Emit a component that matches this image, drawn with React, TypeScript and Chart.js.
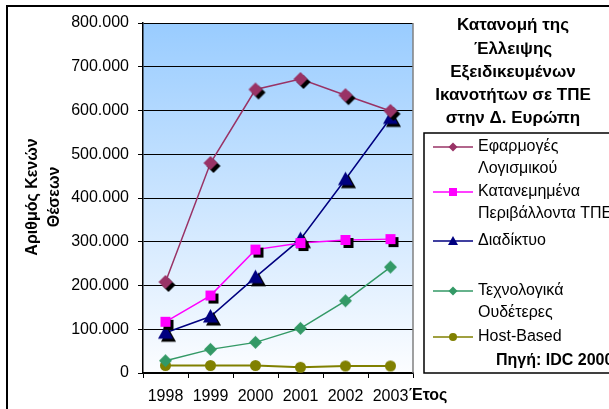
import React, { useEffect, useRef } from 'react';
import { Chart, registerables } from 'chart.js';

Chart.register(...registerables);

const years = ['1998', '1999', '2000', '2001', '2002', '2003'];
const softwareApps = [208000, 480000, 648000, 672000, 635000, 599000];
const distributedEnv = [117000, 177000, 282000, 297000, 304000, 306000];
const internet = [92000, 129000, 219000, 306000, 443000, 583000];
const neutralTech = [28000, 54000, 70000, 102000, 165000, 242000];
const hostBased = [17000, 17000, 17000, 13000, 16000, 16000];

const seriesNames = [
  ['Εφαρμογές', 'Λογισμικού'],
  ['Κατανεμημένα', 'Περιβάλλοντα ΤΠΕ'],
  ['Διαδίκτυο'],
  ['Τεχνολογικά', 'Ουδέτερες'],
  ['Host-Based'],
];
const titleLines = ['Κατανομή της', 'Έλλειψης', 'Εξειδικευμένων', 'Ικανοτήτων σε ΤΠΕ', 'στην Δ. Ευρώπη'];
const yTitleLines = ['Αριθμός Κενών', 'Θέσεων'];
const xTitle = 'Έτος';
const sourceText = 'Πηγή: IDC 2000';

const FONT = '"Liberation Sans", Arial, sans-serif';

type Shape = 'diamond' | 'square' | 'triangle' | 'circle';

function drawShape(g: CanvasRenderingContext2D, shape: Shape, x: number, y: number, r: number, fill: string) {
  g.fillStyle = fill;
  g.beginPath();
  if (shape === 'diamond') {
    g.moveTo(x, y - r);
    g.lineTo(x + r, y);
    g.lineTo(x, y + r);
    g.lineTo(x - r, y);
    g.closePath();
  } else if (shape === 'square') {
    g.rect(x - r, y - r, 2 * r, 2 * r);
  } else if (shape === 'triangle') {
    g.moveTo(x, y - r);
    g.lineTo(x + r, y + r * 0.8);
    g.lineTo(x - r, y + r * 0.8);
    g.closePath();
  } else {
    g.arc(x, y, r, 0, Math.PI * 2);
  }
  g.fill();
}

function makeMarker(shape: Shape, color: string, r: number, off: number) {
  const pad = off + 1;
  const size = Math.ceil(2 * (r + pad));
  const c = document.createElement('canvas');
  c.width = size;
  c.height = size;
  const g = c.getContext('2d')!;
  const cx = size / 2;
  if (off) drawShape(g, shape, cx + off, cx + off, r, '#000000');
  drawShape(g, shape, cx, cx, r, color);
  return c;
}

const colors = ['#993366', '#FF00FF', '#000080', '#339966', '#808000'];
const shapes: Shape[] = ['diamond', 'square', 'triangle', 'diamond', 'circle'];
const plotSizes = [7, 5, 7.5, 6.5, 5.5];
const shadowOffsets = [3, 3, 3, 0, 0];
const legendSizes = [4.5, 4, 5, 4.5, 4];
const legendRows = [147, 192, 241, 291, 337];

function fmt(v: number) {
  if (v === 0) return '0';
  const s = String(Math.round(v));
  return s.replace(/\B(?=(\d{3})+(?!\d))/g, '.');
}

export default function App() {
  const ref = useRef<HTMLCanvasElement>(null);

  useEffect(() => {
    const canvas = ref.current!;
    const seriesData = [softwareApps, distributedEnv, internet, neutralTech, hostBased];

    const extras = {
      id: 'extras',
      beforeDraw(chart: any) {
        const { ctx, chartArea } = chart;
        ctx.save();
        ctx.fillStyle = '#ffffff';
        ctx.fillRect(0, 0, chart.width, chart.height);
        const grad = ctx.createLinearGradient(0, chartArea.top, 0, chartArea.bottom);
        grad.addColorStop(0, '#99CCFF');
        grad.addColorStop(1, '#FCFDFF');
        ctx.fillStyle = grad;
        ctx.fillRect(chartArea.left, chartArea.top, chartArea.right - chartArea.left, chartArea.bottom - chartArea.top);
        ctx.restore();
      },
      beforeDatasetsDraw(chart: any) {
        const { ctx, chartArea } = chart;
        ctx.save();
        ctx.strokeStyle = '#808080';
        ctx.lineWidth = 1.5;
        ctx.beginPath();
        ctx.moveTo(chartArea.right, chartArea.top);
        ctx.lineTo(chartArea.right, chartArea.bottom);
        ctx.stroke();
        ctx.restore();
      },
      afterDraw(chart: any) {
        const { ctx } = chart;
        ctx.save();
        // outer border
        ctx.strokeStyle = '#000';
        ctx.lineWidth = 2;
        ctx.beginPath();
        ctx.moveTo(7, 420);
        ctx.lineTo(7, 6);
        ctx.lineTo(620, 6);
        ctx.stroke();

        // title
        ctx.fillStyle = '#000';
        ctx.font = 'bold 17px ' + FONT;
        ctx.textAlign = 'center';
        ctx.textBaseline = 'middle';
        const ty = [25, 49, 72, 95, 118];
        titleLines.forEach((t, i) => ctx.fillText(t, 513, ty[i]));

        // y title
        ctx.save();
        ctx.font = 'bold 16px ' + FONT;
        ctx.translate(33, 197);
        ctx.rotate(-Math.PI / 2);
        ctx.fillText(yTitleLines[0], 0, 0);
        ctx.fillText(yTitleLines[1], 0, 22);
        ctx.restore();

        // x title
        ctx.font = 'bold 16px ' + FONT;
        ctx.textAlign = 'left';
        ctx.fillText(xTitle, 409, 396);

        // legend box
        ctx.lineWidth = 1.5;
        ctx.strokeRect(424, 133, 200, 240);
        ctx.font = '16px ' + FONT;
        ctx.textAlign = 'left';
        ctx.textBaseline = 'middle';
        seriesNames.forEach((names, i) => {
          const y = legendRows[i];
          ctx.strokeStyle = colors[i];
          ctx.lineWidth = 1.5;
          ctx.beginPath();
          ctx.moveTo(433, y);
          ctx.lineTo(473, y);
          ctx.stroke();
          drawShape(ctx, shapes[i], 453, y, legendSizes[i], colors[i]);
          ctx.fillStyle = '#000';
          names.forEach((n, j) => ctx.fillText(n, 478, y + j * 22));
        });
        ctx.font = 'bold 16px ' + FONT;
        ctx.fillText(sourceText, 496, 361);
        ctx.restore();
      },
    };

    const chart = new Chart(canvas, {
      type: 'line',
      data: {
        labels: years,
        datasets: seriesData.map((d, i) => ({
          label: seriesNames[i].join(' '),
          data: d,
          borderColor: colors[i],
          backgroundColor: colors[i],
          borderWidth: i === 4 ? 2 : 1.5,
          pointStyle: makeMarker(shapes[i], colors[i], plotSizes[i], shadowOffsets[i]) as any,
          pointRadius: plotSizes[i],
          fill: false,
          tension: 0,
        })),
      },
      plugins: [extras],
      options: {
        responsive: false,
        animation: false,
        layout: { padding: { top: 23, right: 196, bottom: 0, left: 0 } },
        plugins: {
          legend: { display: false },
          title: { display: false },
          tooltip: { enabled: false },
        },
        scales: {
          x: {
            offset: true,
            grid: {
              offset: true,
              drawOnChartArea: false,
              drawTicks: true,
              tickLength: 5,
              color: '#000',
            },
            border: { color: '#000', width: 1.5 },
            ticks: {
              color: '#000',
              font: { family: FONT, size: 16 },
              padding: 9,
              maxRotation: 0,
              autoSkip: false,
            },
            afterFit(scale: any) {
              scale.height = 36;
            },
          },
          y: {
            min: 0,
            max: 800000,
            grid: { color: '#000', lineWidth: 1, tickLength: 5 },
            border: { color: '#000', width: 1.5 },
            ticks: {
              stepSize: 100000,
              color: '#000',
              font: { family: FONT, size: 16 },
              padding: 9,
              callback: (v: any) => fmt(Number(v)),
            },
            afterFit(scale: any) {
              scale.width = 143;
            },
          },
        },
      },
    });
    return () => chart.destroy();
  }, []);

  return (
    <div style={{ position: 'absolute', left: 0, top: 0, width: 609, height: 409, overflow: 'hidden' }}>
      <canvas ref={ref} width={609} height={409} style={{ display: 'block', width: 609, height: 409 }} />
    </div>
  );
}
